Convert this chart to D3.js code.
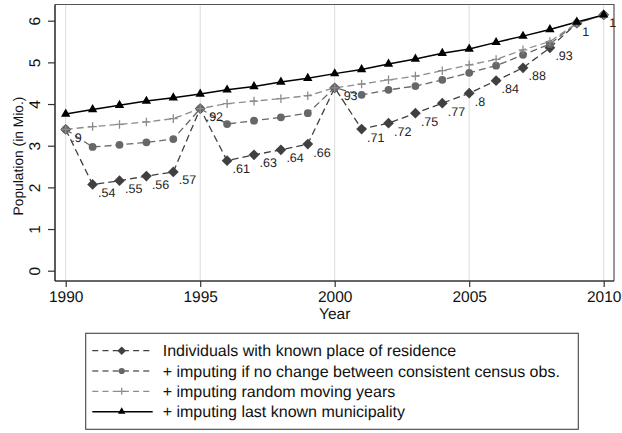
<!DOCTYPE html>
<html>
<head>
<meta charset="utf-8">
<script src="https://cdn.jsdelivr.net/npm/d3@7"></script>
<style>
  html, body { margin: 0; padding: 0; background: #fff; }
  svg { display: block; font-family: "Liberation Sans", Arial, sans-serif; }
  text { text-rendering: geometricPrecision; }
</style>
</head>
<body>
<svg id="chart" width="622" height="433"></svg>
<script>
const years = [1990,1991,1992,1993,1994,1995,1996,1997,1998,1999,2000,2001,2002,2003,2004,2005,2006,2007,2008,2009,2010];
const knownResidence = [3.39,2.07,2.16,2.27,2.37,3.89,2.64,2.78,2.90,3.04,4.39,3.40,3.54,3.78,4.02,4.26,4.56,4.87,5.35,5.94,6.14];
const noChangeCensus = [3.39,2.97,3.02,3.08,3.16,3.89,3.52,3.60,3.68,3.78,4.39,4.22,4.34,4.43,4.58,4.75,4.92,5.18,5.44,5.94,6.14];
const randomMoving   = [3.39,3.46,3.51,3.57,3.65,3.89,4.01,4.07,4.13,4.20,4.39,4.48,4.58,4.67,4.80,4.94,5.07,5.30,5.50,5.94,6.14];
const lastKnownMuni  = [3.76,3.87,3.97,4.07,4.15,4.24,4.34,4.42,4.53,4.62,4.73,4.83,4.96,5.08,5.22,5.32,5.48,5.63,5.79,5.97,6.14];
const shareLabels = [".9",".54",".55",".56",".57",".92",".61",".63",".64",".66",".93",".71",".72",".75",".77",".8",".84",".88",".93","1","1"];
const xTicks = [1990,1995,2000,2005,2010];
const yTicks = [0,1,2,3,4,5,6];
const seriesNames = [
  "Individuals with known place of residence",
  "+ imputing if no change between consistent census obs.",
  "+ imputing random moving years",
  "+ imputing last known municipality"
];

const svg = d3.select("#chart");
const x = d3.scaleLinear().domain([1990, 2010]).range([65.7, 603.7]);
const y = d3.scaleLinear().domain([0, 6]).range([270.7, 20.7]);
const plot = {left: 55, right: 614, top: 4.5, bottom: 281};

// gridlines
svg.append("g").selectAll("line").data(xTicks).join("line")
  .attr("x1", d => x(d)).attr("x2", d => x(d))
  .attr("y1", plot.top).attr("y2", plot.bottom)
  .attr("stroke", "#dcdcdc").attr("stroke-width", 1);

// frame top/right
svg.append("path")
  .attr("d", `M${plot.left},${plot.top}H${plot.right}V${plot.bottom}`)
  .attr("fill", "none").attr("stroke", "#555").attr("stroke-width", 1.2);

// axes
const xAxis = d3.axisBottom(x).tickValues(xTicks).tickFormat(d3.format("d")).tickSize(6).tickSizeOuter(0);
const gx = svg.append("g").attr("transform", `translate(0,${plot.bottom})`).call(xAxis);
gx.select(".domain").attr("d", `M${plot.left},0H${plot.right}`).attr("stroke", "#333").attr("stroke-width", 1.6);
gx.selectAll(".tick line").attr("stroke", "#333").attr("stroke-width", 1.2);
gx.selectAll(".tick text").attr("font-size", 15.5).attr("fill", "#111").attr("font-family", "Liberation Sans, Arial, sans-serif").attr("dy", null).attr("y", 20.5);

const yAxis = d3.axisLeft(y).tickValues(yTicks).tickFormat(d3.format("d")).tickSize(7).tickSizeOuter(0);
const gy = svg.append("g").attr("transform", `translate(${plot.left},0)`).call(yAxis);
gy.select(".domain").attr("d", `M0,${plot.top}V${plot.bottom}`).attr("stroke", "#333").attr("stroke-width", 1.6);
gy.selectAll(".tick line").attr("stroke", "#333").attr("stroke-width", 1.2);
gy.selectAll(".tick text")
  .attr("font-size", 15.5).attr("fill", "#111").attr("font-family", "Liberation Sans, Arial, sans-serif")
  .attr("x", null).attr("dy", null)
  .attr("text-anchor", "middle")
  .attr("transform", "translate(-15.5,0) rotate(-90)");

// axis titles
svg.append("text").attr("x", x(2000)).attr("y", 318.5).attr("text-anchor", "middle")
  .attr("font-size", 15.5).attr("fill", "#111").text("Year");
svg.append("text").attr("transform", "translate(23,156) rotate(-90)").attr("text-anchor", "middle")
  .attr("font-size", 13.8).attr("fill", "#111").text("Population (in Mio.)");

// marker helpers
function diamondPath(r) { return `M0,${-r}L${r},0L0,${r}L${-r},0Z`; }
const styles = [
  {values: knownResidence, color: "#404040", dash: "7,4", width: 1.3, marker: "diamond"},
  {values: noChangeCensus, color: "#676767", dash: "7,4", width: 1.3, marker: "circle"},
  {values: randomMoving,   color: "#8c8c8c", dash: "7,4", width: 1.3, marker: "plus"},
  {values: lastKnownMuni,  color: "#000000", dash: null,  width: 1.5, marker: "triangle"}
];

function drawMarker(g, kind, color, scale) {
  const s = scale || 1;
  if (kind === "diamond") {
    g.append("path").attr("d", diamondPath(5.4 * s)).attr("fill", color);
  } else if (kind === "circle") {
    g.append("circle").attr("r", 3.9 * s).attr("fill", color);
  } else if (kind === "plus") {
    const a = 4.3 * s;
    g.append("path").attr("d", `M${-a},0H${a}M0,${-a}V${a}`).attr("stroke", color).attr("stroke-width", 1.3).attr("fill", "none");
  } else if (kind === "triangle") {
    g.append("path").attr("d", d3.symbol().type(d3.symbolTriangle).size(38 * s * s)()).attr("fill", color);
  }
}

const line = d3.line().x((d, i) => x(years[i])).y(d => y(d));

styles.forEach(st => {
  svg.append("path").datum(st.values).attr("d", line)
    .attr("fill", "none").attr("stroke", st.color).attr("stroke-width", st.width)
    .attr("stroke-dasharray", st.dash);
});
styles.forEach(st => {
  svg.append("g").selectAll("g").data(st.values).join("g")
    .attr("transform", (d, i) => `translate(${x(years[i])},${y(d)})`)
    .each(function() { drawMarker(d3.select(this), st.marker, st.color); });
});

// marker labels for first series
svg.append("g").selectAll("text").data(knownResidence).join("text")
  .attr("x", (d, i) => x(years[i]) + 5.5)
  .attr("y", (d, i) => y(d) + 12.5)
  .attr("font-size", 12.5).attr("fill", "#222")
  .text((d, i) => shareLabels[i]);

// legend
const legend = svg.append("g");
legend.append("rect").attr("x", 85.7).attr("y", 333.3).attr("width", 492.6).attr("height", 96)
  .attr("fill", "#fff").attr("stroke", "#444").attr("stroke-width", 1.1);
const rowY = [350.7, 371, 391.3, 411.7];
styles.forEach((st, i) => {
  const g = legend.append("g");
  g.append("line").attr("x1", 92.3).attr("x2", 152.7).attr("y1", rowY[i]).attr("y2", rowY[i])
    .attr("stroke", st.color).attr("stroke-width", st.width).attr("stroke-dasharray", st.dash ? "6,4.2" : null);
  const m = g.append("g").attr("transform", `translate(121.7,${rowY[i]})`);
  drawMarker(m, st.marker, st.color, 0.8);
  g.append("text").attr("x", 162.7).attr("y", rowY[i] + 5.5)
    .attr("font-size", 16).attr("fill", "#111").text(seriesNames[i]);
});
</script>
</body>
</html>
